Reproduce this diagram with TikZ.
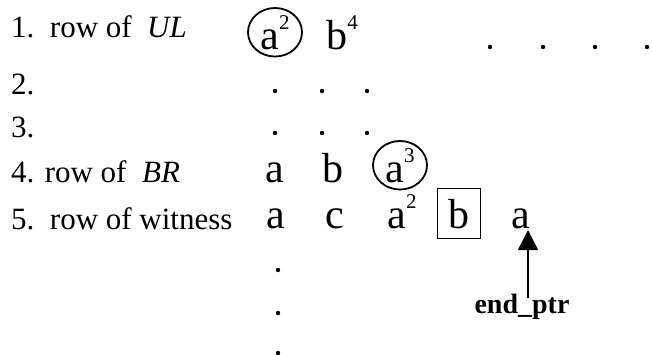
\documentclass[tikz,border=0pt]{standalone}
\usepackage{fontspec}
\setmainfont{Liberation Serif}
\usetikzlibrary{shapes.geometric,arrows.meta}
\newcommand{\supr}[2]{#1\raisebox{20pt}{\fontsize{21}{21}\selectfont #2}}

\begin{document}
\begin{tikzpicture}[x=1pt, y=-1pt, >={Triangle[width=20pt,length=20pt]},
  lbl/.style={anchor=base west, inner sep=0pt, font=\fontsize{31}{31}\selectfont},
  sym/.style={anchor=base, inner sep=0pt, font=\fontsize{42}{42}\selectfont},
  ring/.style={sym, draw, ellipse, line width=1.8pt, minimum width=54pt, minimum height=46pt},
  boxed/.style={sym, draw, line width=1.5pt, minimum width=43pt, minimum height=50pt}]
  \useasboundingbox (0,0) rectangle (652,354);
  % row labels
  \node[lbl] (r1) at (11,37) {1.\ \ row of\ \ \textit{UL}};
  \node[lbl] (r2) at (11,94) {2.};
  \node[lbl] (r3) at (11,137) {3.};
  \node[lbl] (r4) at (11,182) {4. row of\ \ \textit{BR}};
  \node[lbl] (r5) at (11,229) {5.\ \ row of witness};
  % row 1
  \node[ring] (ula) at (275,49) {\supr{a}{2}};
  \node[sym] (ulb) at (342,49) {\supr{b}{4}};
  \foreach \x in {490,543,595,647}
    \fill (\x,47) circle (2.2);
  % rows 2 and 3
  \foreach \y in {91,133}
    \foreach \x in {275,322,367}
      \fill (\x,\y) circle (2.2);
  % row 4
  \node[sym] (bra) at (275,182) {a};
  \node[sym] (brb) at (333,182) {b};
  \node[ring] (brc) at (400,182) {\supr{a}{3}};
  % row 5
  \node[sym] (wa) at (276,228) {a};
  \node[sym] (wb) at (335,228) {c};
  \node[sym] (wc) at (402,228) {\supr{a}{2}};
  \node[boxed] (wd) at (459,228) {b};
  \node[sym] (we) at (521,228) {a};
  \foreach \y in {270,313,353}
    \fill (278,\y) circle (2.2);
  % pointer
  \node[anchor=base, inner sep=0pt, font=\bfseries\fontsize{28}{28}\selectfont] (endptr) at (522,313) {end\_ptr};
  \coordinate (tip) at (528,230);
  \draw[->, line width=1.5pt] ([yshift=-5pt]endptr.north -| tip) -- (tip);
\end{tikzpicture}
\end{document}
